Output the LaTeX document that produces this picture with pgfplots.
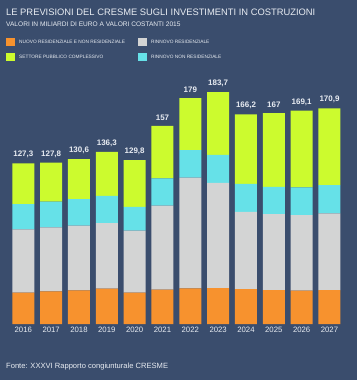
\documentclass[border=0pt]{standalone}
\usepackage{pgfplots}
\pgfplotsset{compat=1.18}
\usepackage{pgfplotstable}
\usepackage{fontspec}
\setmainfont{Liberation Sans}
\definecolor{bg}{HTML}{3A4D6D}
\definecolor{corange}{HTML}{F7922E}
\definecolor{cgrey}{HTML}{D3D4D4}
\definecolor{ccyan}{HTML}{66E1E8}
\definecolor{clime}{HTML}{CCFB2E}
\definecolor{txt}{HTML}{E8ECF2}
\pgfplotstableread{
x o g c l t
0 24.8 50.2 20.0 32.3 127.3
1 25.9 50.7 20.3 30.9 127.8
2 26.7 51.2 21.1 31.6 130.6
3 28.0 52.0 21.6 34.7 136.3
4 24.8 49.1 19.0 36.9 129.8
5 27.2 66.5 21.7 41.6 157
6 28.3 87.6 21.9 41.2 179
7 28.5 83.4 22.2 49.6 183.7
8 27.7 61.2 22.2 55.1 166.2
9 26.9 60.2 21.6 58.3 167
10 26.4 59.9 21.9 60.9 169.1
11 26.9 60.7 22.4 60.9 170.9
}\data
\pgfplotsset{common/.style={
  at={(9.4bp,56bp)}, anchor=south west,
  scale only axis, width=334bp, height=252.4bp,
  xmin=-0.5, xmax=11.5, ymin=0, ymax=200,
  axis line style={draw=none}, tick style={draw=none},
  ytick=\empty, clip=false,
  /pgf/number format/assume math mode=true,
}}
\begin{document}
\begin{tikzpicture}[x=1bp,y=1bp]
\fill[bg] (0,0) rectangle (357,380);
% title
\node[anchor=west,text=txt,inner sep=0pt,font=\fontsize{9.4}{10}\selectfont] at (6,368) {LE PREVISIONI DEL CRESME SUGLI INVESTIMENTI IN COSTRUZIONI};
\node[anchor=west,text=txt,inner sep=0pt,font=\fontsize{6.6}{7}\selectfont] at (6,356) {VALORI IN MILIARDI DI EURO A VALORI COSTANTI 2015};
% legend
\fill[corange] (6,334) rectangle (15,342);
\node[anchor=west,text=txt,inner sep=0pt,font=\fontsize{4.8}{5}\selectfont] at (19,338) {NUOVO RESIDENZIALE E NON RESIDENZIALE};
\fill[cgrey] (138,334) rectangle (147,342);
\node[anchor=west,text=txt,inner sep=0pt,font=\fontsize{4.8}{5}\selectfont] at (151,338) {RINNOVO RESIDENZIALE};
\fill[clime] (6,319) rectangle (15,327);
\node[anchor=west,text=txt,inner sep=0pt,font=\fontsize{4.8}{5}\selectfont] at (19,323) {SETTORE PUBBLICO COMPLESSIVO};
\fill[ccyan] (138,319) rectangle (147,327);
\node[anchor=west,text=txt,inner sep=0pt,font=\fontsize{4.8}{5}\selectfont] at (151,323) {RINNOVO NON RESIDENZIALE};
% footer
\node[anchor=west,text=txt,inner sep=0pt,font=\fontsize{7.6}{8}\selectfont] at (6,13) {Fonte: XXXVI Rapporto congiunturale CRESME};
\begin{axis}[common,
  ybar stacked, bar width=22bp,
  xtick=data,
  xticklabels={2016,2017,2018,2019,2020,2021,2022,2023,2024,2025,2026,2027},
  xticklabel style={text=txt,font=\fontsize{7.8}{8}\selectfont},
]
\addplot[fill=corange,draw=none] table[x=x,y=o] {\data};
\addplot[fill=cgrey,draw=none] table[x=x,y=g] {\data};
\addplot[fill=ccyan,draw=none] table[x=x,y=c] {\data};
\addplot[fill=clime,draw=none] table[x=x,y=l] {\data};
\end{axis}
\begin{axis}[common, xtick=\empty]
\addplot[draw=none, mark=none,
  nodes near coords={\pgfmathprintnumber[fixed,precision=1,use comma]{\pgfplotspointmeta}},
  nodes near coords style={text=txt,font=\bfseries\fontsize{8}{9}\selectfont,inner sep=0pt,anchor=south,yshift=5pt}
] table[x=x,y=t] {\data};
\end{axis}
\end{tikzpicture}
\end{document}
